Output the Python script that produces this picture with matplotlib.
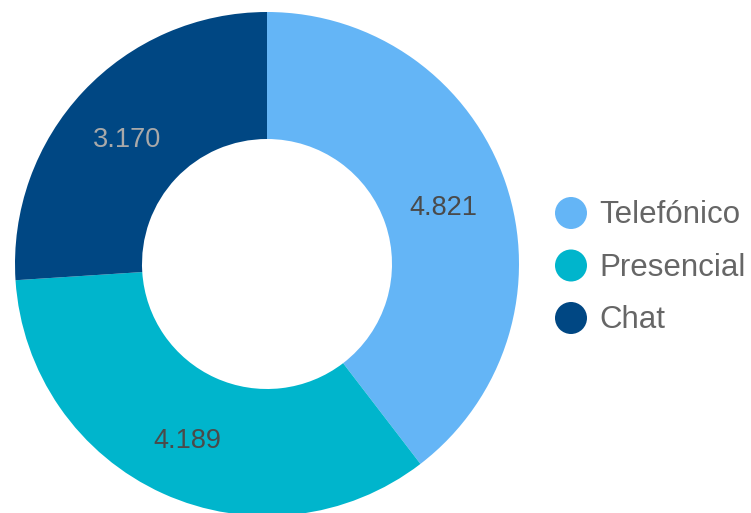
import matplotlib
matplotlib.use("Agg")
import matplotlib.pyplot as plt
from matplotlib.patches import Circle

plt.rcParams['font.family'] = ['Liberation Sans', 'DejaVu Sans']

categories = ["Telefónico", "Presencial", "Chat"]
values = [4821, 4189, 3170]
value_labels = ["4.821", "4.189", "3.170"]
colors = ["#64B5F6", "#00B5CC", "#004783"]
label_colors = ["#4a4a4a", "#4a4a4a", "#a9a9a9"]

W, H = 751, 513
fig = plt.figure(figsize=(W / 100, H / 100), dpi=100)
ax = fig.add_axes([0, 0, 1, 1])
ax.set_xlim(0, W)
ax.set_ylim(0, H)
ax.set_aspect('equal')
ax.axis('off')

cx, cy = 267, H - 264
r_out, r_in = 252, 125
width = r_out - r_in

wedges, texts = ax.pie(
    values, colors=colors, startangle=90, counterclock=False,
    center=(cx, cy), radius=r_out,
    wedgeprops=dict(width=width, linewidth=0),
    labels=value_labels, labeldistance=(r_in + width / 2) / r_out,
    textprops=dict(fontsize=19.5),
)
for t, c in zip(texts, label_colors):
    t.set_color(c)
    t.set_ha('center')
    t.set_va('center')
    x, y = t.get_position()
    t.set_position((x - 2, y - 5))

ax.set_xlim(0, W)
ax.set_ylim(0, H)

# legend drawn as circle swatches with text
lx, ly0, dy = 571, H - 213, 52.5
for i, (name, col) in enumerate(zip(categories, colors)):
    y = ly0 - i * dy
    ax.add_patch(Circle((lx, y), 16, color=col, linewidth=0))
    ax.text(lx + 28, y - 2, name, fontsize=22.5, color="#666666", va='center', ha='left')

fig.savefig("out.png", dpi=100)
